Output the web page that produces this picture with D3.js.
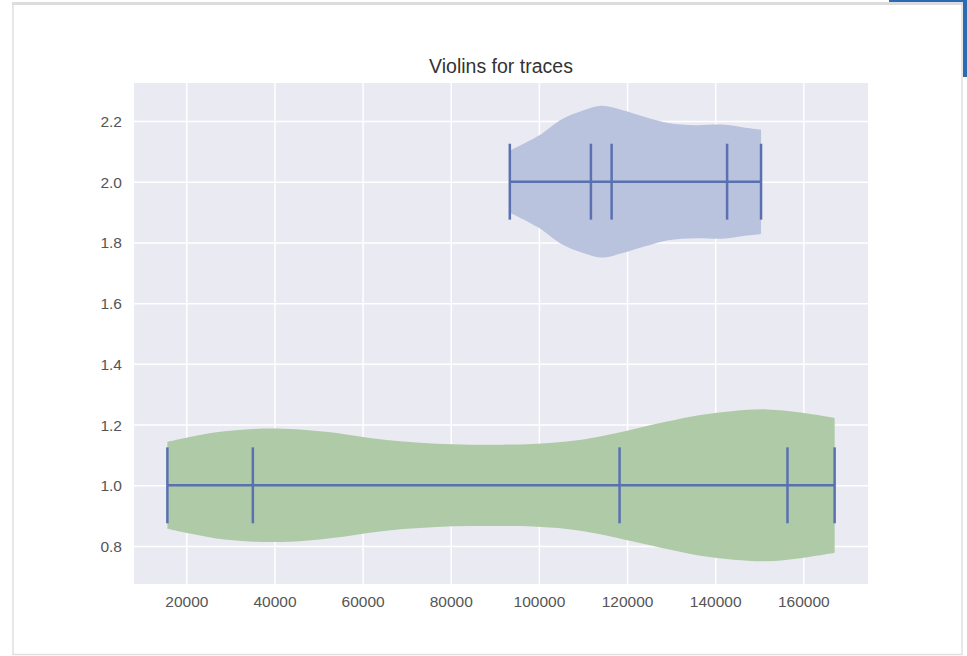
<!DOCTYPE html>
<html>
<head>
<meta charset="utf-8">
<script src="https://cdn.jsdelivr.net/npm/d3@7"></script>
<style>
  html, body { margin: 0; padding: 0; background: #fff; }
  svg { display: block; font-family: "Liberation Sans", Arial, sans-serif; }
  .tick text { fill: #555; font-size: 15.5px; }
  .grid line { stroke: #fff; stroke-width: 1.5; }
  .title { fill: #333; font-size: 19.5px; text-anchor: middle; }
</style>
</head>
<body>
<svg></svg>
<script>
// violin positions
const positions = [1, 2];

// violin outlines: x value and half-width (y units)
const greenX = [15700, 20800, 26800, 34400, 40400, 46500, 54100, 61600, 69200, 76800, 84300,
  91900, 98700, 106300, 113900, 121400, 129000, 136600, 144200, 151700, 159300, 167100];
const greenW = [0.143, 0.159, 0.175, 0.185, 0.187, 0.183, 0.172, 0.156, 0.144, 0.137, 0.134,
  0.134, 0.136, 0.144, 0.161, 0.185, 0.210, 0.232, 0.245, 0.25, 0.240, 0.222];

const blueX = [93400, 99900, 105200, 109700, 114300, 118800, 124100, 129300, 135500, 141500, 146800, 150400];
const blueW = [0.102, 0.151, 0.206, 0.233, 0.25, 0.236, 0.213, 0.193, 0.186, 0.188, 0.178, 0.172];

// stat lines (min, ..., max)
const greenStats = [15700, 35100, 118300, 156400, 167100];
const blueStats = [93400, 111800, 116500, 142700, 150400];

const xTicks = [20000, 40000, 60000, 80000, 100000, 120000, 140000, 160000];
const yTicks = [0.8, 1.0, 1.2, 1.4, 1.6, 1.8, 2.0, 2.2];

const title = 'Violins for traces';

const width = 967, height = 656;
const svg = d3.select('svg').attr('width', width).attr('height', height);

// page frame
svg.append('rect').attr('x', 13).attr('y', 3.5).attr('width', 949).attr('height', 651)
  .attr('fill', 'none').attr('stroke', '#e0e0e0').attr('stroke-width', 1.5);
svg.append('rect').attr('x', 12).attr('y', 2).attr('width', 951).attr('height', 3).attr('fill', '#dcdcdc');
svg.append('rect').attr('x', 889).attr('y', 0).attr('width', 78).attr('height', 2).attr('fill', '#2a6bb3');
svg.append('rect').attr('x', 963).attr('y', 0).attr('width', 4).attr('height', 77).attr('fill', '#2a6bb3');

const margin = {left: 134, top: 83, right: 99, bottom: 72};
const innerWidth = width - margin.left - margin.right;
const innerHeight = height - margin.top - margin.bottom;

const allX = greenStats.concat(blueStats);
const [xmin, xmax] = d3.extent(allX);
const xpad = (xmax - xmin) * 0.05;
const xScale = d3.scaleLinear().domain([xmin - xpad, xmax + xpad]).range([0, innerWidth]);

const ymin = positions[0] - 0.25, ymax = positions[1] + 0.25;
const ypad = (ymax - ymin) * 0.05;
const yScale = d3.scaleLinear().domain([ymin - ypad, ymax + ypad]).range([innerHeight, 0]);

const g = svg.append('g').attr('transform', `translate(${margin.left},${margin.top})`);

g.append('rect').attr('width', innerWidth).attr('height', innerHeight).attr('fill', '#eaeaf2');

const xAxisG = g.append('g').attr('class', 'grid')
  .attr('transform', `translate(0,${innerHeight})`)
  .call(d3.axisBottom(xScale).tickValues(xTicks).tickFormat(d3.format('d'))
    .tickSize(-innerHeight).tickPadding(12));
xAxisG.select('.domain').remove();

const yAxisG = g.append('g').attr('class', 'grid')
  .call(d3.axisLeft(yScale).tickValues(yTicks).tickFormat(d3.format('.1f'))
    .tickSize(-innerWidth).tickPadding(12));
yAxisG.select('.domain').remove();
yAxisG.selectAll('.tick text').attr('dy', '0.35em');

const violins = [
  {pos: positions[0], xs: greenX, ws: greenW, stats: greenStats, fill: '#afcaa7'},
  {pos: positions[1], xs: blueX, ws: blueW, stats: blueStats, fill: '#b9c3dd'}
];

violins.forEach(v => {
  const pts = v.xs.map((x, i) => ({x, w: v.ws[i]}));
  const area = d3.area()
    .x(d => xScale(d.x))
    .y0(d => yScale(v.pos - d.w))
    .y1(d => yScale(v.pos + d.w))
    .curve(d3.curveCatmullRom.alpha(0.5));
  g.append('path').attr('d', area(pts)).attr('fill', v.fill);

  const lineColor = '#5a70b0';
  g.append('line')
    .attr('x1', xScale(d3.min(v.stats))).attr('x2', xScale(d3.max(v.stats)))
    .attr('y1', yScale(v.pos)).attr('y2', yScale(v.pos))
    .attr('stroke', lineColor).attr('stroke-width', 2.5);
  g.selectAll(null).data(v.stats).join('line')
    .attr('x1', d => xScale(d)).attr('x2', d => xScale(d))
    .attr('y1', yScale(v.pos - 0.125)).attr('y2', yScale(v.pos + 0.125))
    .attr('stroke', lineColor).attr('stroke-width', 2.5);
});

g.append('text').attr('class', 'title')
  .attr('x', innerWidth / 2).attr('y', -10)
  .text(title);
</script>
</body>
</html>
